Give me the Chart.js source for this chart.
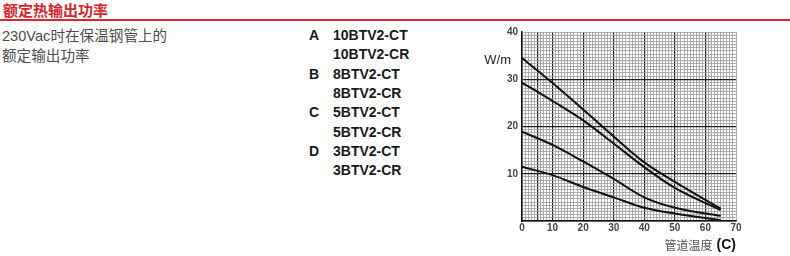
<!DOCTYPE html>
<html>
<head>
<meta charset="utf-8">
<script src="https://cdn.jsdelivr.net/npm/chart.js@4.4.1/dist/chart.umd.min.js"></script>
<style>
    html, body {
        margin: 0;
        padding: 0;
        width: 790px;
        height: 256px;
        overflow: hidden;
        background: #fff;
        font-family: 'Liberation Sans', 'Noto Sans CJK SC', sans-serif;
    }
    .title {
        position: absolute;
        left: 3px;
        top: 1px;
        font-family: 'Noto Sans CJK SC', sans-serif;
        font-size: 15px;
        line-height: 18px;
        font-weight: bold;
        color: #d4262f;
    }
    .rule {
        position: absolute;
        left: 0;
        top: 19px;
        width: 790px;
        height: 2px;
        background: #e0262d;
    }
    .subtitle {
        position: absolute;
        left: 2px;
        top: 27px;
        font-size: 14.6px;
        line-height: 19.5px;
        color: #4d4d4d;
    }
    .legend-row {
        position: absolute;
        font-size: 14px;
        line-height: 19px;
        font-weight: bold;
        color: #1a1a1a;
        white-space: nowrap;
    }
    #chartBox {
        position: absolute;
        left: 470px;
        top: 22px;
        width: 300px;
        height: 234px;
    }
</style>
</head>
<body>
<div class="title">额定热输出功率</div>
<div class="rule"></div>
<div class="subtitle">230Vac时在保温钢管上的<br>额定输出功率</div>
<div id="legend"></div>
<div id="chartBox"><canvas id="powerChart"></canvas></div>

<script>
// Pipe temperature (°C) at which the curves were read
const temps = [0, 10, 20, 30, 40, 50, 65];

// Output power (W/m) per curve
const curveA = [34.5, 29.2, 23.6, 17.9, 12.4, 8.3, 2.6];
const curveB = [29.3, 25.4, 21.3, 16.4, 11.4, 7.0, 2.3];
const curveC = [18.9, 16.1, 12.6, 8.9, 5.0, 2.8, 1.1];
const curveD = [11.5, 9.7, 7.2, 5.0, 2.8, 1.6, 0.2];

const curveLetters = ['A', 'B', 'C', 'D'];
const curveModels = [
    ['10BTV2-CT', '10BTV2-CR'],
    ['8BTV2-CT', '8BTV2-CR'],
    ['5BTV2-CT', '5BTV2-CR'],
    ['3BTV2-CT', '3BTV2-CR']
];

const xTickLabels = [0, 10, 20, 30, 40, 50, 60, 70];
const yTickLabels = [10, 20, 30, 40];
const xDarkLines = [5, 10, 20, 30, 40, 50, 60];
const yDarkLines = [10, 20, 30];

const yUnit = 'W/m';
const xTitle = '管道温度';
const xTitleUnit = '(C)';

// Legend list on the left of the chart
const legendEl = document.getElementById('legend');
let row = 0;
curveLetters.forEach((letter, i) => {
    curveModels[i].forEach((model, j) => {
        const top = 26 + row * 19.3;
        if (j === 0) {
            const l = document.createElement('div');
            l.className = 'legend-row';
            l.style.left = '309px';
            l.style.top = top + 'px';
            l.textContent = letter;
            legendEl.appendChild(l);
        }
        const m = document.createElement('div');
        m.className = 'legend-row';
        m.style.left = '333px';
        m.style.top = top + 'px';
        m.textContent = model;
        legendEl.appendChild(m);
        row++;
    });
});

const near = (v, list) => list.some(t => Math.abs(v - t) < 1e-6);

// Letters at the start of each curve, the unit label and the x title
const curveLabelPlugin = {
    id: 'curveLabels',
    afterDatasetsDraw(chart) {
        const { ctx, scales: { x, y }, chartArea } = chart;
        ctx.save();
        ctx.fillStyle = '#333';
        ctx.font = '13px "Liberation Sans", sans-serif';
        ctx.textAlign = 'center';
        ctx.textBaseline = 'middle';
        chart.data.datasets.forEach((ds, i) => {
            ctx.fillText(curveLetters[i], x.getPixelForValue(3.5), y.getPixelForValue(ds.data[0]) - 2);
        });

        ctx.textAlign = 'right';
        ctx.fillStyle = '#222';
        ctx.fillText(yUnit, chartArea.left - 11, y.getPixelForValue(34));

        // x title: plain CJK text followed by a bold unit
        const right = chartArea.right;
        const ty = chartArea.bottom + 24;
        ctx.font = 'bold 14px "Liberation Sans", sans-serif';
        ctx.fillStyle = '#111';
        ctx.fillText(xTitleUnit, right, ty);
        const unitW = ctx.measureText(xTitleUnit).width;
        ctx.font = '12px "Noto Sans CJK SC", sans-serif';
        ctx.fillStyle = '#555';
        ctx.fillText(xTitle, right - unitW - 4, ty);
        ctx.restore();
    }
};

const lineStyle = {
    borderColor: '#111',
    borderWidth: 2,
    pointRadius: 0,
    fill: false,
    cubicInterpolationMode: 'monotone'
};

new Chart(document.getElementById('powerChart'), {
    type: 'line',
    data: {
        labels: temps,
        datasets: [curveA, curveB, curveC, curveD].map((values, i) => ({
            label: curveModels[i].join(' / '),
            data: values.map((v, k) => ({ x: temps[k], y: v })),
            ...lineStyle
        }))
    },
    options: {
        responsive: true,
        maintainAspectRatio: false,
        animation: false,
        layout: {
            padding: { left: 0, right: 34, top: 10, bottom: 5 }
        },
        scales: {
            x: {
                type: 'linear',
                min: 0,
                max: 70,
                afterBuildTicks: scale => {
                    scale.ticks = Array.from({ length: 71 }, (_, i) => ({ value: i }));
                },
                afterFit: scale => { scale.height = 30; },
                ticks: {
                    autoSkip: false,
                    maxRotation: 0,
                    padding: 1,
                    color: '#444',
                    font: { size: 10, weight: 'bold' },
                    callback: v => near(v, xTickLabels) ? v : ''
                },
                grid: {
                    drawTicks: false,
                    color: c => near(c.tick.value, xDarkLines) ? '#222' : '#9c9c9c',
                    lineWidth: c => near(c.tick.value, xDarkLines) ? 1.2 : 0.8
                },
                border: { color: '#111', width: 1.5 }
            },
            y: {
                type: 'linear',
                min: 0,
                max: 40,
                afterBuildTicks: scale => {
                    scale.ticks = Array.from({ length: 61 }, (_, i) => ({ value: i * 2 / 3 }));
                },
                afterFit: scale => { scale.width = 52; },
                ticks: {
                    autoSkip: false,
                    padding: 4,
                    color: '#444',
                    font: { size: 10, weight: 'bold' },
                    callback: v => near(v, yTickLabels) ? Math.round(v) : ''
                },
                grid: {
                    drawTicks: false,
                    color: c => near(c.tick.value, yDarkLines) ? '#222' : '#9c9c9c',
                    lineWidth: c => near(c.tick.value, yDarkLines) ? 1.2 : 0.8
                },
                border: { color: '#111', width: 1.5 }
            }
        },
        plugins: {
            legend: { display: false },
            tooltip: { enabled: false }
        }
    },
    plugins: [curveLabelPlugin]
});
</script>
</body>
</html>
